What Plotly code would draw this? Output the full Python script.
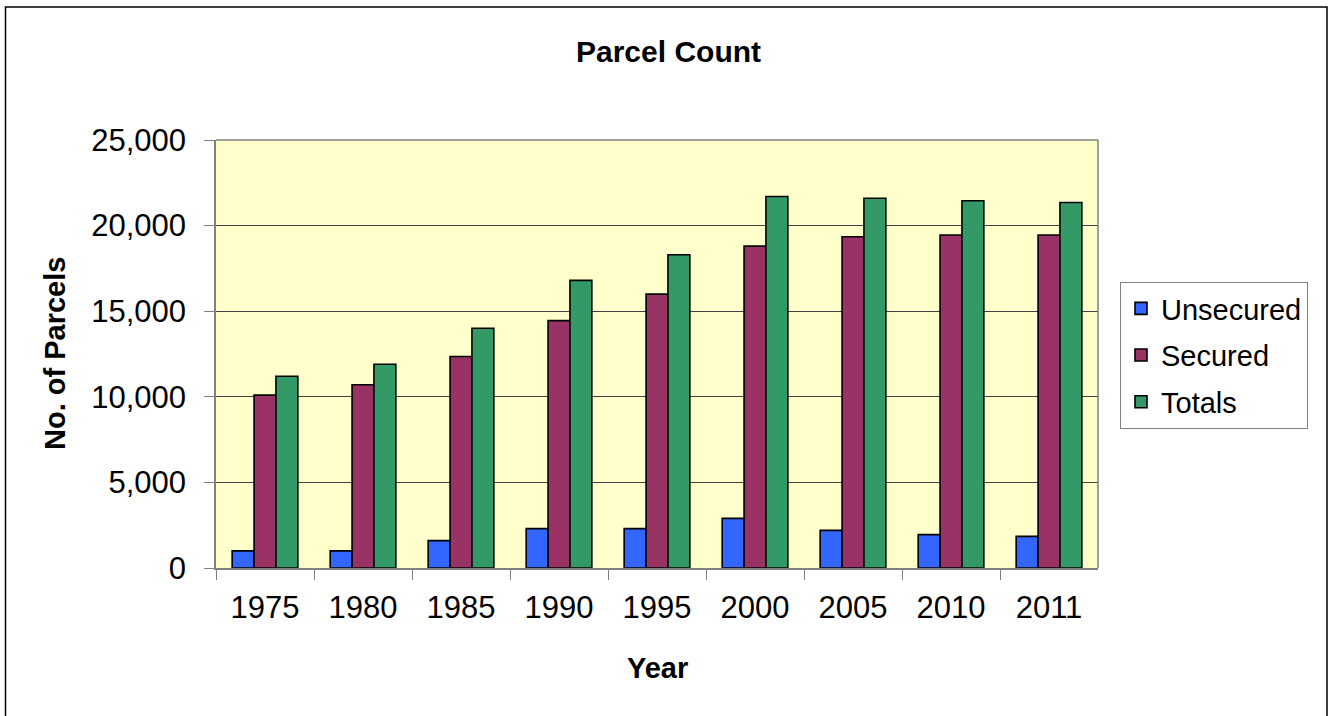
import plotly.graph_objects as go

years = ["1975", "1980", "1985", "1990", "1995", "2000", "2005", "2010", "2011"]
unsecured = [1000, 1000, 1600, 2300, 2300, 2900, 2200, 1950, 1850]
secured = [10100, 10700, 12350, 14450, 16000, 18800, 19350, 19450, 19450]
totals = [11200, 11900, 14000, 16800, 18300, 21700, 21600, 21450, 21350]

series_names = ["Unsecured", "Secured", "Totals"]
series_colors = ["#3366FF", "#993366", "#339966"]

W, H = 1330, 716


def fx(px):
    return px / W


def fy(py):
    return 1 - py / H


px0, px1 = 216, 1098
py0, py1 = 140, 568

FONT = "Liberation Sans, Arial, sans-serif"

fig = go.Figure()
for name, vals, col in zip(series_names, [unsecured, secured, totals], series_colors):
    fig.add_trace(go.Bar(
        x=years, y=vals, name=name, legendgroup=name,
        marker=dict(color=col, line=dict(color="#000000", width=1.6)),
    ))

fig.update_layout(
    width=W, height=H,
    margin=dict(l=0, r=0, t=0, b=0, autoexpand=False),
    paper_bgcolor="white",
    plot_bgcolor="#FFFFCC",
    barmode="group",
    bargap=0.33,
    bargroupgap=0,
    font=dict(family=FONT, color="black"),
    showlegend=True,
    legend=dict(
        x=fx(1120), y=fy(282), xanchor="left", yanchor="top",
        bgcolor="white", bordercolor="#808080", borderwidth=1,
        font=dict(size=29, family=FONT), traceorder="grouped",
        tracegroupgap=6, itemwidth=30,
    ),
    xaxis=dict(
        domain=[fx(px0), fx(px1)],
        type="category", automargin=False,
        showline=True, linecolor="#808080", linewidth=1.5, mirror=False,
        ticks="outside", tickson="boundaries", ticklen=10, tickcolor="#808080",
        tickfont=dict(size=31, family=FONT), ticklabelstandoff=11,
        showgrid=False,
    ),
    yaxis=dict(
        domain=[fy(py1), fy(py0)], automargin=False,
        range=[0, 25000], dtick=5000, tickformat=",d",
        showline=True, linecolor="#808080", linewidth=1.5,
        ticks="outside", ticklen=10, tickcolor="#808080",
        tickfont=dict(size=31, family=FONT), ticklabelstandoff=12,
        showgrid=True, gridcolor="#404040", gridwidth=1.2,
        zeroline=False,
    ),
    annotations=[
        dict(text="<b>Parcel Count</b>", x=fx(668), y=fy(52), xref="paper", yref="paper",
             showarrow=False, font=dict(size=30, family=FONT), xanchor="center", yanchor="middle"),
        dict(text="<b>No. of Parcels</b>", x=fx(55), y=fy(354), xref="paper", yref="paper",
             showarrow=False, textangle=-90, font=dict(size=29, family=FONT),
             xanchor="center", yanchor="middle"),
        dict(text="<b>Year</b>", x=fx(657), y=fy(668), xref="paper", yref="paper",
             showarrow=False, font=dict(size=29, family=FONT), xanchor="center", yanchor="middle"),
    ],
    shapes=[
        dict(type="rect", xref="paper", yref="paper",
             x0=fx(5.5), x1=fx(1327), y0=-0.02, y1=fy(7),
             line=dict(color="#000000", width=1.5), fillcolor="rgba(0,0,0,0)"),
        dict(type="line", xref="paper", yref="paper",
             x0=fx(px0), x1=fx(px1), y0=fy(py0), y1=fy(py0),
             line=dict(color="#808080", width=1.5)),
        dict(type="line", xref="paper", yref="paper",
             x0=fx(px1), x1=fx(px1), y0=fy(py0), y1=fy(py1),
             line=dict(color="#808080", width=1.5)),
    ],
)

# remove the browser's default 8px body margin so the figure sits at the page origin
fig.write_html("out.html", config={"displayModeBar": False},
               post_script="document.body.style.margin='0';")
